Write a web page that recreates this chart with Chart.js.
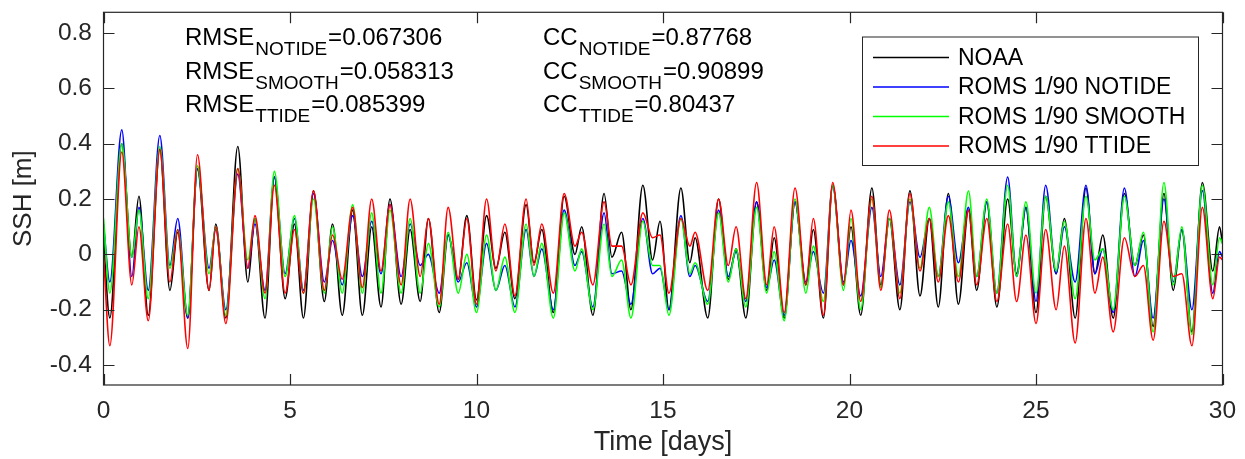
<!DOCTYPE html>
<html>
<head>
<meta charset="utf-8">
<title>SSH comparison</title>
<script src="https://cdn.jsdelivr.net/npm/chart.js@4.4.1/dist/chart.umd.min.js"></script>
<style>
  html, body { margin: 0; padding: 0; background: #fff; }
  #wrap { width: 1245px; height: 459px; }
</style>
</head>
<body>
<div id="wrap"><canvas id="ssh" width="1245" height="459"></canvas></div>
<script>
// time of each turning point (days), shared by all four series
const days = [
  0, 0.17, 0.49, 0.76, 0.95, 1.20, 1.51, 1.78, 1.99, 2.26, 2.52, 2.83, 3.01, 3.28, 3.60, 3.87, 4.06, 4.33, 4.58, 4.87,
  5.12, 5.36, 5.63, 5.92, 6.14, 6.40, 6.68, 6.94, 7.19, 7.44, 7.68, 7.98, 8.22, 8.49, 8.71, 9.00, 9.24, 9.51, 9.74, 10.0,
  10.27, 10.52, 10.76, 11.03, 11.33, 11.54, 11.75, 12.06, 12.35, 12.64, 12.82, 13.12, 13.42, 13.63, 13.89, 14.14, 14.46, 14.72, 14.92, 15.16,
  15.48, 15.72, 15.86, 16.20, 16.49, 16.75, 16.96, 17.22, 17.51, 17.78, 17.98, 18.25, 18.54, 18.83, 19.03, 19.30, 19.55, 19.84, 20.04, 20.30,
  20.60, 20.84, 21.07, 21.35, 21.62, 21.89, 22.14, 22.38, 22.65, 22.92, 23.19, 23.41, 23.68, 23.95, 24.24, 24.48, 24.73, 25.0, 25.26, 25.54,
  25.76, 26.05, 26.34, 26.58, 26.79, 27.07, 27.37, 27.65, 27.88, 28.14, 28.43, 28.68, 28.91, 29.18, 29.46, 29.74, 29.92, 30.0
];

// SSH [m]
const noaa = [
  0.05, -0.23, 0.40, -0.01, 0.21, -0.22, 0.38, -0.13, 0.08, -0.23, 0.31, -0.13, 0.11, -0.23, 0.39, -0.10, 0.13, -0.23, 0.28, -0.16,
  0.11, -0.23, 0.23, -0.17, 0.11, -0.22, 0.16, -0.22, 0.10, -0.19, 0.20, -0.18, 0.09, -0.17, 0.13, -0.21, 0.07, -0.09, 0.14, -0.165,
  0.14, -0.05, 0.08, -0.16, 0.18, -0.03, 0.09, -0.21, 0.21, 0.0, 0.10, -0.22, 0.22, -0.01, 0.08, -0.20, 0.25, -0.02, 0.12, -0.20,
  0.24, -0.03, 0.06, -0.23, 0.20, -0.09, 0.02, -0.23, 0.19, -0.13, 0.06, -0.23, 0.19, -0.11, 0.09, -0.23, 0.25, -0.11, 0.10, -0.22,
  0.24, -0.11, 0.13, -0.20, 0.23, -0.15, 0.13, -0.19, 0.22, -0.18, 0.16, -0.13, 0.19, -0.19, 0.20, -0.07, 0.17, -0.21, 0.21, -0.07,
  0.13, -0.23, 0.24, -0.07, 0.07, -0.23, 0.22, -0.04, 0.07, -0.26, 0.22, -0.13, 0.09, -0.28, 0.26, -0.06, 0.10, 0.04
];
const notide = [
  0.11, -0.10, 0.45, -0.08, 0.17, -0.13, 0.43, -0.04, 0.13, -0.23, 0.31, -0.05, 0.09, -0.20, 0.29, -0.05, 0.11, -0.13, 0.28, -0.07,
  0.13, -0.13, 0.22, -0.10, 0.05, -0.11, 0.14, -0.08, 0.12, -0.07, 0.18, -0.08, 0.11, -0.04, 0.0, -0.14, 0.07, -0.10, -0.03, -0.19,
  0.04, -0.13, -0.04, -0.19, 0.09, -0.08, 0.02, -0.20, 0.16, -0.04, 0.01, -0.19, 0.15, -0.07, -0.06, -0.18, 0.13, -0.07, -0.05, -0.20,
  0.14, -0.08, -0.04, -0.17, 0.16, -0.08, 0.01, -0.17, 0.19, -0.12, -0.02, -0.22, 0.19, -0.10, 0.01, -0.14, 0.25, -0.10, 0.05, -0.15,
  0.17, -0.08, 0.13, -0.11, 0.19, -0.01, 0.13, -0.08, 0.21, -0.03, 0.17, -0.08, 0.19, -0.14, 0.28, -0.08, 0.17, -0.17, 0.25, -0.07,
  0.10, -0.10, 0.25, -0.07, 0.02, -0.21, 0.24, -0.08, 0.05, -0.23, 0.20, -0.10, 0.09, -0.20, 0.23, -0.14, 0.01, -0.01
];
const smooth = [
  0.13, -0.14, 0.40, -0.01, 0.16, -0.16, 0.39, -0.05, 0.09, -0.22, 0.32, -0.07, 0.10, -0.22, 0.31, -0.02, 0.13, -0.16, 0.30, -0.08,
  0.14, -0.14, 0.20, -0.14, 0.10, -0.14, 0.18, -0.14, 0.15, -0.14, 0.16, -0.14, 0.13, -0.14, 0.04, -0.19, 0.08, -0.14, 0.0, -0.21,
  0.07, -0.13, -0.01, -0.21, 0.11, -0.08, 0.04, -0.23, 0.15, -0.06, 0.02, -0.20, 0.11, -0.08, -0.02, -0.23, 0.12, -0.04, -0.04, -0.22,
  0.13, -0.07, -0.03, -0.18, 0.15, -0.10, 0.02, -0.19, 0.17, -0.14, 0.01, -0.24, 0.20, -0.14, 0.03, -0.17, 0.25, -0.13, 0.13, -0.20,
  0.20, -0.12, 0.13, -0.14, 0.20, -0.05, 0.17, -0.08, 0.19, -0.08, 0.23, -0.08, 0.20, -0.14, 0.25, -0.08, 0.19, -0.14, 0.21, -0.06,
  0.12, -0.16, 0.21, -0.02, 0.02, -0.20, 0.21, -0.04, 0.08, -0.28, 0.26, -0.11, 0.10, -0.29, 0.25, -0.11, 0.06, 0.04
];
const ttide = [
  0.0, -0.33, 0.37, -0.11, 0.10, -0.24, 0.38, -0.10, 0.09, -0.34, 0.36, -0.13, 0.10, -0.25, 0.31, -0.05, 0.14, -0.14, 0.25, -0.14,
  0.09, -0.14, 0.23, -0.13, 0.07, -0.09, 0.17, -0.12, 0.20, -0.06, 0.18, -0.11, 0.20, -0.08, 0.13, -0.18, 0.17, -0.09, 0.13, -0.18,
  0.20, -0.06, 0.11, -0.15, 0.20, -0.04, 0.11, -0.14, 0.22, 0.03, 0.08, -0.11, 0.19, 0.03, 0.03, -0.11, 0.15, 0.06, 0.07, -0.14,
  0.13, 0.03, 0.08, -0.13, 0.20, -0.04, 0.10, -0.16, 0.26, -0.11, 0.10, -0.21, 0.24, -0.11, 0.13, -0.22, 0.26, -0.11, 0.16, -0.17,
  0.21, -0.13, 0.16, -0.16, 0.22, -0.06, 0.13, -0.10, 0.14, -0.10, 0.16, -0.11, 0.13, -0.17, 0.11, -0.17, 0.07, -0.25, 0.09, -0.20,
  0.03, -0.32, 0.13, -0.14, -0.01, -0.28, 0.06, -0.08, -0.04, -0.31, 0.12, -0.08, -0.07, -0.33, 0.17, -0.16, -0.01, -0.02
];

const seriesNames = ['NOAA', 'ROMS 1/90 NOTIDE', 'ROMS 1/90 SMOOTH', 'ROMS 1/90 TTIDE'];
const seriesColors = ['#000000', '#0000ff', '#00ff00', '#ff0000'];
const xTicks = [0, 5, 10, 15, 20, 25, 30];
const yTicks = [-0.4, -0.2, 0, 0.2, 0.4, 0.6, 0.8];

// statistics printed in the upper left
const statNames = ['NOTIDE', 'SMOOTH', 'TTIDE'];
const rmseValues = ['0.067306', '0.058313', '0.085399'];
const ccValues = ['0.87768', '0.90899', '0.80437'];

const fontFamily = '"Liberation Sans", Arial, Helvetica, sans-serif';
const axisColor = '#262626';

function toPoints(values) {
  return values.map((v, i) => ({ x: days[i], y: v }));
}

// MATLAB-like box: frame, inward ticks, text block and legend
const matlabBox = {
  id: 'matlabBox',
  afterDatasetsDraw(chart) {
    const { ctx, chartArea: a, scales: { x, y } } = chart;
    ctx.save();

    // frame + ticks on all four sides
    ctx.strokeStyle = axisColor;
    ctx.lineWidth = 1.2;
    ctx.strokeRect(a.left, a.top, a.right - a.left, a.bottom - a.top);
    ctx.beginPath();
    xTicks.forEach(v => {
      const px = Math.round(x.getPixelForValue(v)) + 0.5;
      ctx.moveTo(px, a.bottom); ctx.lineTo(px, a.bottom - 11);
      ctx.moveTo(px, a.top); ctx.lineTo(px, a.top + 11);
    });
    yTicks.forEach(v => {
      const py = Math.round(y.getPixelForValue(v)) + 0.5;
      ctx.moveTo(a.left, py); ctx.lineTo(a.left + 11, py);
      ctx.moveTo(a.right, py); ctx.lineTo(a.right - 11, py);
    });
    ctx.stroke();

    // RMSE / CC text with subscripts
    const mainFont = '24px ' + fontFamily;
    const subFont = '19px ' + fontFamily;
    ctx.fillStyle = '#000';
    ctx.textBaseline = 'alphabetic';
    ctx.textAlign = 'left';
    function writeStat(x0, y0, head, sub, val) {
      let cx = x0;
      ctx.font = mainFont;
      ctx.fillText(head, cx, y0);
      cx += ctx.measureText(head).width + 1;
      ctx.font = subFont;
      ctx.fillText(sub, cx, y0 + 10);
      cx += ctx.measureText(sub).width + 1;
      ctx.font = mainFont;
      ctx.fillText('=' + val, cx, y0);
    }
    statNames.forEach((name, i) => {
      const by = a.top + 33 + i * 33.3;
      writeStat(a.left + 81.5, by, 'RMSE', name, rmseValues[i]);
      writeStat(a.left + 439.5, by, 'CC', name, ccValues[i]);
    });

    // legend box
    const lx = 862, ly = 36.5, lw = 336, lh = 128.5;
    ctx.fillStyle = '#fff';
    ctx.fillRect(lx, ly, lw, lh);
    ctx.strokeStyle = axisColor;
    ctx.lineWidth = 1;
    ctx.strokeRect(lx + 0.5, ly + 0.5, lw, lh);
    ctx.font = '23px ' + fontFamily;
    ctx.textBaseline = 'middle';
    seriesNames.forEach((name, i) => {
      const ry = ly + 21 + i * 29.5;
      ctx.strokeStyle = seriesColors[i];
      ctx.lineWidth = 1.5;
      ctx.beginPath();
      ctx.moveTo(873, ry); ctx.lineTo(949, ry);
      ctx.stroke();
      ctx.fillStyle = '#000';
      ctx.fillText(name, 958, ry + 1);
    });
    ctx.restore();
  }
};

const seriesValues = [noaa, notide, smooth, ttide];

new Chart(document.getElementById('ssh'), {
  type: 'line',
  data: {
    datasets: seriesValues.map((vals, i) => ({
      label: seriesNames[i],
      data: toPoints(vals),
      borderColor: seriesColors[i],
      backgroundColor: seriesColors[i],
      borderWidth: 1.6,
      pointRadius: 0,
      fill: false,
      cubicInterpolationMode: 'monotone',
      order: 3 - i
    }))
  },
  options: {
    responsive: false,
    animation: false,
    events: [],
    layout: { autoPadding: false, padding: { left: 0, top: 12.3, right: 22.5, bottom: 0 } },
    plugins: { legend: { display: false }, tooltip: { enabled: false } },
    scales: {
      x: {
        type: 'linear',
        min: 0,
        max: 30,
        afterFit: s => { s.height = 74; s.paddingLeft = 0; s.paddingRight = 0; },
        afterBuildTicks: s => { s.ticks = xTicks.map(v => ({ value: v })); },
        grid: { display: false, drawTicks: false },
        border: { display: false },
        ticks: { color: axisColor, padding: 12, maxRotation: 0, font: { family: fontFamily, size: 24.5 } },
        title: {
          display: true, text: 'Time [days]', color: axisColor,
          font: { family: fontFamily, size: 27 }, padding: { top: 0, bottom: 0 }
        }
      },
      y: {
        type: 'linear',
        min: -0.472,
        max: 0.875,
        afterFit: s => { s.width = 103.5; s.paddingTop = 0; s.paddingBottom = 0; },
        afterBuildTicks: s => { s.ticks = yTicks.map(v => ({ value: v })); },
        grid: { display: false, drawTicks: false },
        border: { display: false },
        ticks: {
          color: axisColor, padding: 11.5, font: { family: fontFamily, size: 24.5 },
          callback: v => Number(v.toFixed(2)).toString()
        },
        title: {
          display: true, text: 'SSH [m]', color: axisColor,
          font: { family: fontFamily, size: 26 }, padding: { top: 8, bottom: 0 }
        }
      }
    }
  },
  plugins: [matlabBox]
});
</script>
</body>
</html>
